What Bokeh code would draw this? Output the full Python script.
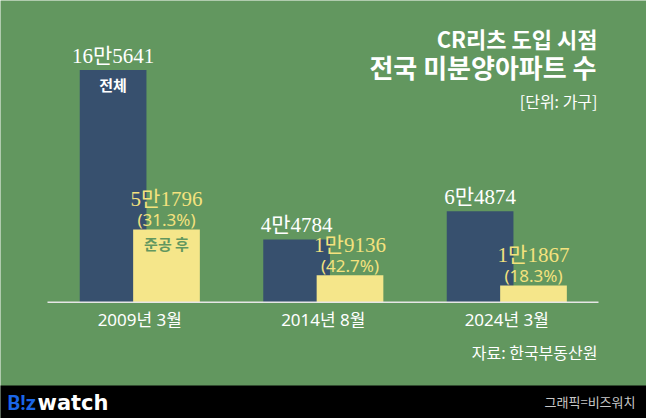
from bokeh.plotting import figure
from bokeh.models import Range1d, Label, BoxAnnotation, ColumnDataSource
from bokeh.core.properties import value
from bokeh.embed import file_html
from bokeh.resources import INLINE

# ---- data ----
periods = ["2009년 3월", "2014년 8월", "2024년 3월"]
total = [165641, 44784, 64874]
completed = [51796, 19136, 11867]
total_labels = ["16만5641", "4만4784", "6만4874"]
completed_labels = ["5만1796", "1만9136", "1만1867"]
share_labels = ["(31.3%)", "(42.7%)", "(18.3%)"]
title1 = "CR리츠 도입 시점"
title2 = "전국 미분양아파트 수"
unit = "[단위: 가구]"
source_txt = "자료: 한국부동산원"
credit = "그래픽=비즈워치"

# ---- layout ----
W, H = 646, 418
BG = "#62975F"
NAVY = "#37506E"
YEL = "#F5E68A"
YEL_TXT = "#F4E27E"
SANS = "Noto Sans CJK KR"
LATIN = "Noto Sans, Noto Sans CJK KR"
SERIF = "Liberation Serif, Noto Sans CJK KR"

base_from_bottom = H - 301.7
ppu = 232.2 / 165641.0
g0 = 139.3
gsp = 183.5
ystart = -base_from_bottom / ppu
yend = (H - base_from_bottom) / ppu
xstart = -g0 / gsp
xend = (W - g0) / gsp
bw = 66.7 / gsp
off = 26.7 / gsp

def xd(px):
    return xstart + px / gsp

def yd(px_top):
    return ystart + (H - px_top) / ppu

p = figure(width=W, height=H, output_backend="svg", toolbar_location=None,
           x_range=Range1d(xstart, xend), y_range=Range1d(ystart, yend),
           x_axis_type=None, y_axis_type=None, min_border=0)
p.background_fill_color = BG
p.border_fill_color = BG
p.outline_line_color = None
p.grid.visible = False

xs = list(range(len(periods)))
src = ColumnDataSource(dict(
    xn=[x - off for x in xs], xy=[x + off for x in xs], xc=xs,
    total=total, completed=completed, periods=periods,
    tl=total_labels, cl=completed_labels, sl=share_labels,
    zero=[0] * len(xs)))

p.vbar(x="xn", top="total", bottom=0, width=bw, source=src, color=NAVY, line_color=None)
p.vbar(x="xy", top="completed", bottom=0, width=bw, source=src, color=YEL, line_color=None)

# baseline
p.segment(x0=xd(47), x1=xd(598), y0=0, y1=0, line_color="#e6e6e6", line_width=1.6)

# value labels
p.text(x="xn", y="total", text="tl", source=src, text_font=value(SERIF),
       text_font_size="21px", text_color="white", text_align="center",
       text_baseline="middle", y_offset=-14)
p.text(x="xy", y="completed", text="cl", source=src, text_font=value(SERIF),
       text_font_size="21px", text_color=YEL_TXT, text_align="center",
       text_baseline="middle", y_offset=-30.5)
p.text(x="xy", y="completed", text="sl", source=src, text_font=value(LATIN),
       text_font_size="17px", text_color=YEL_TXT, text_align="center",
       text_baseline="middle", y_offset=-10)

# category labels
p.text(x="xc", y="zero", text="periods", source=src, text_font=value(LATIN),
       text_font_size="17px", text_color="white", text_align="center",
       text_baseline="middle", y_offset=17)

# in-bar labels
p.text(x=[xs[0] - off], y=[total[0]], text=["전체"], text_font=value(SANS),
       text_font_size="15px", text_font_style="bold", text_color="white",
       text_align="center", text_baseline="middle", y_offset=14)
p.text(x=[xs[0] + off], y=[completed[0]], text=["준공 후"], text_font=value(SANS),
       text_font_size="15px", text_font_style="bold", text_color=BG,
       text_align="center", text_baseline="middle", y_offset=14)

# titles
p.add_layout(Label(x=xd(597), y=yd(37.5), text=title1, text_font=SANS,
                   text_font_size="22px", text_font_style="bold", text_color="white",
                   text_align="right", text_baseline="middle"))
p.add_layout(Label(x=xd(596), y=yd(66), text=title2, text_font=SANS,
                   text_font_size="26px", text_font_style="bold", text_color="white",
                   text_align="right", text_baseline="middle"))
p.add_layout(Label(x=xd(597), y=yd(100.5), text=unit, text_font=SANS,
                   text_font_size="16px", text_color="white",
                   text_align="right", text_baseline="middle"))
p.add_layout(Label(x=xd(597), y=yd(351.5), text=source_txt, text_font=SANS,
                   text_font_size="16px", text_color="white",
                   text_align="right", text_baseline="middle"))

# footer
p.add_layout(BoxAnnotation(bottom=yd(H + 5), top=yd(385), left=xd(-5), right=xd(W + 5),
                           fill_color="black", fill_alpha=1.0, line_alpha=0, level="underlay"))
p.add_layout(Label(x=xd(7), y=yd(402), text="B!z", text_font="Roboto",
                   text_font_size="20px", text_font_style="bold", text_color="#1A66E8",
                   text_align="left", text_baseline="middle"))
p.add_layout(Label(x=xd(37), y=yd(402), text="watch", text_font="DejaVu Sans",
                   text_font_size="21px", text_font_style="bold", text_color="white",
                   text_align="left", text_baseline="middle"))
p.add_layout(Label(x=xd(635), y=yd(401), text=credit, text_font=SANS,
                   text_font_size="13px", text_color="#c8c8c8",
                   text_align="right", text_baseline="middle"))

open("out.html", "w").write(file_html(p, INLINE))
